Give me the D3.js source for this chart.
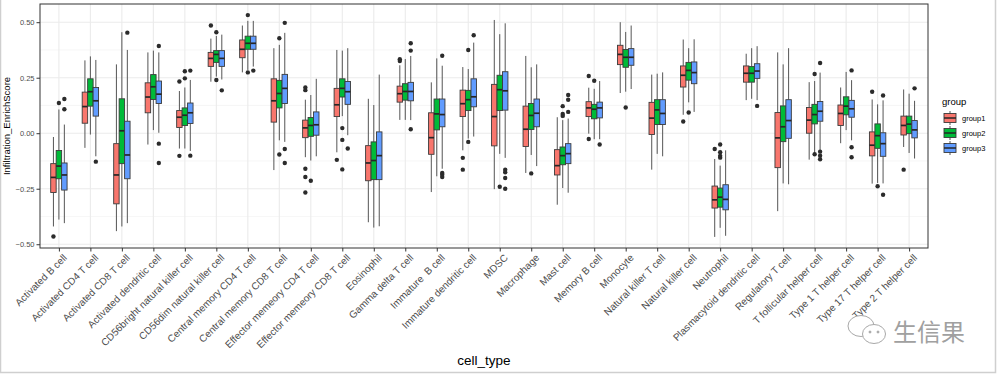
<!DOCTYPE html>
<meta charset="utf-8">
<style>
body { margin: 0; background: #fff; }
text { font-family: "Liberation Sans", Arial, sans-serif; }
</style>
<body>
<script src="https://cdn.jsdelivr.net/npm/d3@7"></script>
<script>
var cellTypes = ["Activated B cell", "Activated CD4 T cell", "Activated CD8 T cell", "Activated dendritic cell",
  "CD56bright natural killer cell", "CD56dim natural killer cell", "Central memory CD4 T cell",
  "Central memory CD8 T cell", "Effector memeory CD4 T cell", "Effector memeory CD8 T cell", "Eosinophil",
  "Gamma delta T cell", "Immature  B cell", "Immature dendritic cell", "MDSC", "Macrophage", "Mast cell",
  "Memory B cell", "Monocyte", "Natural killer T cell", "Natural killer cell", "Neutrophil",
  "Plasmacytoid dendritic cell", "Regulatory T cell", "T follicular helper cell", "Type 1 T helper cell",
  "Type 17 T helper cell", "Type 2 T helper cell"];

var groups = ["group1", "group2", "group3"];
var groupColors = ["#F8766D", "#00BA38", "#619CFF"];

// [lower whisker, q1, median, q3, upper whisker] per cell type
var group1Stats = [
  [-0.420, -0.267, -0.199, -0.137, -0.017], [-0.066, 0.045, 0.120, 0.185, 0.328],
  [-0.441, -0.318, -0.188, -0.047, 0.310], [-0.051, 0.092, 0.163, 0.227, 0.364],
  [-0.069, 0.026, 0.072, 0.102, 0.190], [0.232, 0.301, 0.337, 0.364, 0.426],
  [0.274, 0.340, 0.378, 0.420, 0.485], [-0.166, 0.050, 0.146, 0.245, 0.383],
  [-0.108, -0.020, 0.024, 0.059, 0.151], [-0.086, 0.075, 0.128, 0.202, 0.375],
  [-0.401, -0.214, -0.134, -0.056, 0.155], [0.060, 0.140, 0.178, 0.212, 0.306],
  [-0.265, -0.095, -0.020, 0.092, 0.229], [-0.077, 0.075, 0.133, 0.194, 0.298],
  [-0.252, -0.057, 0.075, 0.220, 0.510], [-0.179, -0.060, 0.018, 0.122, 0.348],
  [-0.322, -0.188, -0.146, -0.074, 0.072], [-0.002, 0.075, 0.114, 0.142, 0.205],
  [0.181, 0.309, 0.355, 0.396, 0.500], [-0.164, -0.006, 0.068, 0.139, 0.264],
  [0.083, 0.208, 0.261, 0.303, 0.422], [-0.467, -0.337, -0.300, -0.238, -0.116],
  [0.149, 0.230, 0.270, 0.303, 0.358], [-0.351, -0.155, -0.021, 0.093, 0.364],
  [-0.119, 0.000, 0.059, 0.116, 0.230], [-0.045, 0.035, 0.089, 0.127, 0.206],
  [-0.227, -0.102, -0.054, 0.006, 0.152], [-0.062, -0.008, 0.035, 0.077, 0.197]
];
var group2Stats = [
  [-0.389, -0.205, -0.148, -0.078, 0.107], [-0.006, 0.122, 0.187, 0.245, 0.346],
  [-0.420, -0.137, 0.011, 0.155, 0.455], [0.014, 0.152, 0.209, 0.264, 0.372],
  [-0.069, 0.035, 0.081, 0.114, 0.206], [0.255, 0.319, 0.355, 0.372, 0.438],
  [0.285, 0.378, 0.405, 0.437, 0.506], [-0.032, 0.114, 0.179, 0.238, 0.398],
  [-0.123, -0.014, 0.035, 0.071, 0.172], [0.077, 0.163, 0.202, 0.245, 0.372],
  [-0.425, -0.209, -0.123, -0.039, 0.127], [0.060, 0.149, 0.188, 0.223, 0.334],
  [-0.194, 0.015, 0.087, 0.154, 0.337], [-0.024, 0.102, 0.151, 0.193, 0.289],
  [-0.093, 0.102, 0.196, 0.261, 0.446], [-0.098, 0.017, 0.080, 0.134, 0.297],
  [-0.247, -0.142, -0.101, -0.062, 0.059], [-0.027, 0.065, 0.108, 0.130, 0.200],
  [0.187, 0.297, 0.342, 0.377, 0.456], [-0.093, 0.039, 0.105, 0.151, 0.268],
  [0.139, 0.239, 0.283, 0.319, 0.383], [-0.426, -0.333, -0.288, -0.247, -0.146],
  [0.155, 0.230, 0.270, 0.300, 0.383], [-0.226, -0.038, 0.029, 0.123, 0.310],
  [-0.090, 0.042, 0.084, 0.130, 0.235], [0.014, 0.083, 0.122, 0.164, 0.276],
  [-0.224, -0.068, -0.011, 0.042, 0.130], [-0.089, -0.002, 0.041, 0.077, 0.178]
];
var group3Stats = [
  [-0.405, -0.256, -0.188, -0.134, 0.039], [-0.104, 0.077, 0.146, 0.206, 0.330],
  [-0.405, -0.205, -0.098, 0.054, 0.375], [0.002, 0.134, 0.176, 0.235, 0.364],
  [-0.080, 0.044, 0.092, 0.136, 0.240], [0.242, 0.301, 0.337, 0.372, 0.444],
  [0.300, 0.378, 0.405, 0.437, 0.506], [-0.039, 0.134, 0.202, 0.265, 0.452],
  [-0.104, -0.009, 0.038, 0.096, 0.245], [-0.009, 0.130, 0.187, 0.233, 0.383],
  [-0.419, -0.209, -0.101, 0.006, 0.264], [0.059, 0.146, 0.188, 0.229, 0.348],
  [-0.160, 0.029, 0.084, 0.154, 0.304], [-0.015, 0.119, 0.164, 0.245, 0.408],
  [-0.111, 0.104, 0.191, 0.277, 0.495], [-0.148, 0.029, 0.090, 0.154, 0.310],
  [-0.268, -0.137, -0.092, -0.047, 0.066], [-0.027, 0.069, 0.114, 0.140, 0.235],
  [0.199, 0.306, 0.342, 0.381, 0.485], [-0.104, 0.039, 0.089, 0.151, 0.274],
  [0.096, 0.223, 0.273, 0.321, 0.423], [-0.462, -0.345, -0.298, -0.232, -0.077],
  [0.149, 0.247, 0.280, 0.313, 0.392], [-0.230, -0.023, 0.057, 0.151, 0.383],
  [-0.077, 0.054, 0.099, 0.143, 0.273], [-0.032, 0.072, 0.110, 0.148, 0.239],
  [-0.226, -0.104, -0.047, 0.002, 0.148], [-0.114, -0.021, 0.015, 0.057, 0.146]
];

// outliers: [cell type index, value]
var group1Outliers = [[0, -0.465], [4, 0.233], [4, -0.102], [5, 0.485], [8, 0.206], [8, 0.194], [8, -0.160],
  [8, -0.197], [8, -0.267], [9, -0.120], [11, 0.333], [11, 0.325], [13, -0.111], [13, -0.164], [17, 0.258],
  [17, -0.026], [20, 0.053], [21, -0.071], [26, 0.187], [27, -0.164]];
var group2Outliers = [[0, 0.136], [4, 0.279], [4, 0.247], [5, 0.455], [5, 0.240], [6, 0.532], [6, 0.274],
  [7, 0.428], [7, -0.096], [8, -0.214], [9, 0.023], [9, -0.030], [9, -0.163], [13, 0.375], [13, -0.039],
  [14, -0.241], [15, -0.181], [16, 0.122], [16, 0.087], [16, 0.078], [17, 0.236], [18, 0.116], [20, 0.093],
  [21, -0.051], [21, -0.086], [21, -0.102], [21, -0.110], [24, 0.267], [24, -0.095], [26, -0.239]];
var group3Outliers = [[0, 0.154], [0, 0.108], [1, -0.128], [2, 0.453], [3, 0.393], [3, -0.047], [3, -0.134],
  [4, 0.282], [4, -0.101], [5, 0.193], [6, 0.282], [7, 0.497], [7, -0.071], [7, -0.134], [9, -0.069],
  [11, 0.405], [11, 0.372], [11, 0.018], [12, 0.349], [12, -0.179], [12, -0.187], [12, -0.197], [13, 0.441],
  [14, -0.164], [14, -0.176], [14, -0.202], [14, -0.250], [16, 0.172], [16, 0.151], [16, 0.096], [17, -0.051],
  [22, 0.123], [24, 0.316], [24, -0.083], [24, -0.101], [24, -0.117], [25, 0.283], [25, -0.063], [25, -0.108],
  [26, 0.170], [26, -0.277], [27, 0.202]];

var yTicks = [-0.50, -0.25, 0.00, 0.25, 0.50];
var yMinorTicks = [-0.375, -0.125, 0.125, 0.375];

var allStats = [group1Stats, group2Stats, group3Stats];
var allOutliers = [group1Outliers, group2Outliers, group3Outliers];

var width = 997, height = 374;
var margin = {left: 40, right: 69, top: 4, bottom: 126};
var pw = width - margin.left - margin.right,
    ph = height - margin.top - margin.bottom;

var svg = d3.select("body").append("svg")
    .attr("width", width)
    .attr("height", height);

// screenshot frame
svg.append("rect")
    .attr("x", 0.5).attr("y", -2).attr("width", 995).attr("height", 374.5)
    .attr("fill", "none").attr("stroke", "#cfcfcf").attr("stroke-width", 1.5);

var x = d3.scalePoint().domain(cellTypes).range([0, pw]).padding(0.6);
var dodge = d3.scaleBand().domain(groups).range([-0.26 * x.step(), 0.26 * x.step()]);

// ggplot-like 5% expansion of the data range
var vals = [];
allStats.forEach(function(s) { s.forEach(function(r) { vals.push(r[0], r[4]); }); });
allOutliers.forEach(function(o) { o.forEach(function(p) { vals.push(p[1]); }); });
var ext = d3.extent(vals), pad = (ext[1] - ext[0]) * 0.05;
var y = d3.scaleLinear().domain([ext[0] - pad, ext[1] + pad]).range([ph, 0]);

var g = svg.append("g").attr("transform", "translate(" + margin.left + "," + margin.top + ")");

// grid
g.selectAll(".minor").data(yMinorTicks).enter().append("line")
    .attr("x1", 0).attr("x2", pw)
    .attr("y1", function(d) { return y(d); }).attr("y2", function(d) { return y(d); })
    .attr("stroke", "#f0f0f0").attr("stroke-width", 0.6);
g.selectAll(".major").data(yTicks).enter().append("line")
    .attr("x1", 0).attr("x2", pw)
    .attr("y1", function(d) { return y(d); }).attr("y2", function(d) { return y(d); })
    .attr("stroke", "#ebebeb").attr("stroke-width", 1.1);
g.selectAll(".vgrid").data(cellTypes).enter().append("line")
    .attr("x1", function(d) { return x(d); }).attr("x2", function(d) { return x(d); })
    .attr("y1", 0).attr("y2", ph)
    .attr("stroke", "#ebebeb").attr("stroke-width", 1.1);

// boxes
var bw = dodge.bandwidth();
allStats.forEach(function(stats, gi) {
  var gr = g.append("g");
  var cx = function(i) { return x(cellTypes[i]) + dodge(groups[gi]) + bw / 2; };
  stats.forEach(function(s, i) {
    var c = cx(i);
    gr.append("line").attr("x1", c).attr("x2", c).attr("y1", y(s[4])).attr("y2", y(s[3]))
        .attr("stroke", "#555").attr("stroke-width", 1);
    gr.append("line").attr("x1", c).attr("x2", c).attr("y1", y(s[1])).attr("y2", y(s[0]))
        .attr("stroke", "#555").attr("stroke-width", 1);
    gr.append("rect")
        .attr("x", c - bw / 2).attr("width", bw)
        .attr("y", y(s[3])).attr("height", y(s[1]) - y(s[3]))
        .attr("fill", groupColors[gi]).attr("stroke", "#3a3a3a").attr("stroke-width", 0.9);
    gr.append("line").attr("x1", c - bw / 2).attr("x2", c + bw / 2)
        .attr("y1", y(s[2])).attr("y2", y(s[2]))
        .attr("stroke", "#262626").attr("stroke-width", 1.7);
  });
  gr.selectAll("circle").data(allOutliers[gi]).enter().append("circle")
      .attr("cx", function(d) { return cx(d[0]); })
      .attr("cy", function(d) { return y(d[1]); })
      .attr("r", 2.2)
      .attr("fill", "#2b2b2b");
});

// panel border
g.append("rect").attr("width", pw).attr("height", ph)
    .attr("fill", "none").attr("stroke", "#333").attr("stroke-width", 1);

// y axis
var yAxis = g.append("g").call(d3.axisLeft(y).tickValues(yTicks).tickFormat(d3.format(".2f")).tickSize(3.5).tickPadding(2));
yAxis.select(".domain").remove();
yAxis.selectAll("line").attr("stroke", "#333");
yAxis.selectAll("text").attr("fill", "#4d4d4d").style("font-size", "7.5px")
    .style("font-family", "Liberation Sans, Arial, sans-serif");

// x axis
var xAxis = g.append("g").attr("transform", "translate(0," + ph + ")")
    .call(d3.axisBottom(x).tickSize(3.5).tickFormat(""));
xAxis.select(".domain").remove();
xAxis.selectAll("line").attr("stroke", "#333");
g.selectAll(".xlab").data(cellTypes).enter().append("text")
    .attr("transform", function(d) { return "translate(" + (x(d) + 3.5) + "," + (ph + 5) + ") rotate(-45)"; })
    .attr("text-anchor", "end")
    .attr("dy", "0.75em")
    .attr("fill", "#4d4d4d")
    .style("font-size", "10px")
    .style("white-space", "pre")
    .text(function(d) { return d; });

// axis titles
svg.append("text")
    .attr("transform", "translate(10," + (margin.top + ph / 2) + ") rotate(-90)")
    .attr("text-anchor", "middle")
    .style("font-size", "9.5px")
    .text("Infiltration_EnrichScore");
svg.append("text")
    .attr("x", margin.left + pw / 2).attr("y", 365)
    .attr("text-anchor", "middle")
    .style("font-size", "13.5px")
    .text("cell_type");

// legend
var leg = svg.append("g").attr("transform", "translate(942,0)");
leg.append("text").attr("x", 0).attr("y", 105).style("font-size", "9.5px").text("group");
groups.forEach(function(gname, i) {
  var cy = 118 + i * 15;
  var k = leg.append("g");
  k.append("line").attr("x1", 8).attr("x2", 8).attr("y1", cy - 7).attr("y2", cy + 7)
      .attr("stroke", "#555").attr("stroke-width", 1);
  k.append("rect").attr("x", 2).attr("y", cy - 4.5).attr("width", 12).attr("height", 9)
      .attr("fill", groupColors[i]).attr("stroke", "#3a3a3a").attr("stroke-width", 0.9);
  k.append("line").attr("x1", 2).attr("x2", 14).attr("y1", cy).attr("y2", cy)
      .attr("stroke", "#262626").attr("stroke-width", 1.5);
  leg.append("text").attr("x", 20).attr("y", cy + 2.7).style("font-size", "7.5px").text(gname);
});

// watermark
var wm = svg.append("g").attr("fill", "none").attr("stroke", "#a8a8a8").attr("stroke-width", 1);
wm.append("ellipse").attr("cx", 861).attr("cy", 326).attr("rx", 13).attr("ry", 10.5).attr("fill", "#fff");
wm.append("ellipse").attr("cx", 874).attr("cy", 334).attr("rx", 11.5).attr("ry", 9.5).attr("fill", "#fff");
wm.append("circle").attr("cx", 870).attr("cy", 332).attr("r", 1).attr("fill", "#a8a8a8");
wm.append("circle").attr("cx", 878).attr("cy", 332).attr("r", 1).attr("fill", "#a8a8a8");
svg.append("text")
    .attr("x", 893).attr("y", 341)
    .style("font-family", "Noto Sans CJK SC, sans-serif")
    .style("font-size", "24px")
    .attr("fill", "#a0a0a0")
    .text("生信果");
</script>
</body>
